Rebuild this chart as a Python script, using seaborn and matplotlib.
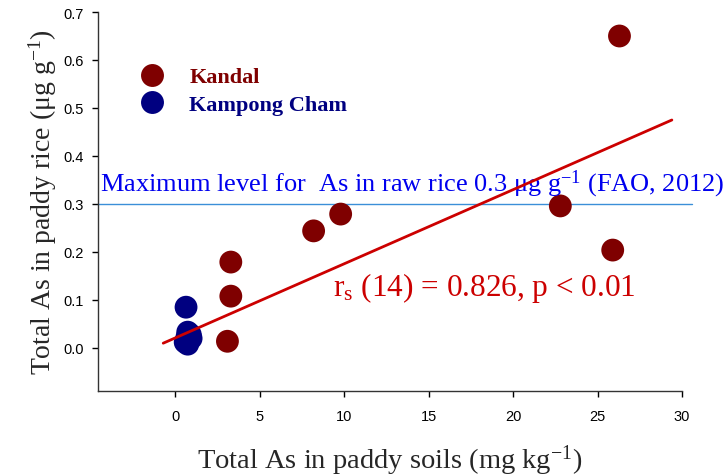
import matplotlib
matplotlib.use("Agg")
import matplotlib.pyplot as plt
import seaborn as sns
import pandas as pd
from matplotlib.lines import Line2D

# ---- data ----
kandal_soil = [26.3, 22.8, 25.9, 9.8, 8.2, 3.3, 3.3, 3.1]
kandal_rice = [0.650, 0.296, 0.204, 0.279, 0.244, 0.179, 0.108, 0.014]
kcham_soil = [0.65, 0.75, 0.9, 0.7, 0.8, 0.95, 0.6, 0.75]
kcham_rice = [0.085, 0.033, 0.028, 0.022, 0.015, 0.020, 0.012, 0.008]
sites = ["Kandal", "Kampong Cham"]
fit_x = [-0.7, 29.4]
fit_y = [0.010, 0.475]
max_level = 0.3
x_ticks = [0, 5, 10, 15, 20, 25, 30]
y_ticks = [0.0, 0.1, 0.2, 0.3, 0.4, 0.5, 0.6, 0.7]

df = pd.DataFrame({
    "soil": kandal_soil + kcham_soil,
    "rice": kandal_rice + kcham_rice,
    "site": [sites[0]] * len(kandal_soil) + [sites[1]] * len(kcham_soil),
})

sns.set_style("ticks")
plt.rcParams["font.family"] = ["Liberation Sans", "DejaVu Sans"]
plt.rcParams["mathtext.fontset"] = "custom"
plt.rcParams["mathtext.rm"] = "Liberation Serif"
plt.rcParams["mathtext.it"] = "Liberation Serif:italic"

fig = plt.figure(figsize=(7.28, 4.77), dpi=100)
ax = fig.add_axes([98 / 728, 1 - 392 / 477, (682 - 98) / 728, (392 - 13) / 477])

colors = {"Kandal": "#7f0000", "Kampong Cham": "#000080"}
sns.scatterplot(data=df, x="soil", y="rice", hue="site", palette=colors,
                s=270, edgecolor="none", legend=False, ax=ax, zorder=3)

sns.lineplot(x=fit_x, y=fit_y, color="#cc0000", lw=2, ax=ax, zorder=4)
ax.plot([-4.56, 30.6], [max_level, max_level], color="#3b8fd8", lw=1,
        clip_on=False, zorder=2)

ax.set_xlim(-4.56, 30)
ax.set_ylim(-0.0896, 0.7)
ax.set_xticks(x_ticks)
ax.set_yticks(y_ticks)
ax.set_yticklabels([f"{v:.1f}" for v in y_ticks])
ax.tick_params(labelsize=10.5, length=4, width=1, colors="black", pad=6)
ax.tick_params(axis="x", pad=9)
for s in ["top", "right"]:
    ax.spines[s].set_visible(False)
for s in ["left", "bottom"]:
    ax.spines[s].set_linewidth(1)
    ax.spines[s].set_color("#333333")

serif = ["Liberation Serif", "DejaVu Serif"]
ax.set_xlabel("Total As in paddy soils (mg kg$^{-1}$)", family=serif,
              fontsize=20.5, labelpad=14)
ax.set_ylabel("Total As in paddy rice (μg g$^{-1}$)", family=serif,
              fontsize=20, labelpad=3)

ax.text(-4.45, 0.31, "Maximum level for  As in raw rice 0.3 μg g$^{-1}$ (FAO, 2012)",
        family=serif, fontsize=19, color="#0000ee", clip_on=False, va="bottom")
ax.text(9.35, 0.128, "r$_\\mathrm{s}$ (14) = 0.826, p < 0.01", family=serif,
        fontsize=22.5, color="#cc0000", va="center")

handles = [Line2D([], [], marker="o", ls="none", markersize=16.5,
                  markerfacecolor=colors[k], markeredgecolor="none") for k in sites]
leg = ax.legend(handles, sites, loc="upper left", bbox_to_anchor=(0.05, 0.879),
                frameon=False, handletextpad=1.0, labelspacing=0.3,
                borderaxespad=0, handlelength=1.4,
                prop={"family": serif, "weight": "bold", "size": 16})
for t, k in zip(leg.get_texts(), sites):
    t.set_color(colors[k])

fig.savefig("out.png", dpi=100)
